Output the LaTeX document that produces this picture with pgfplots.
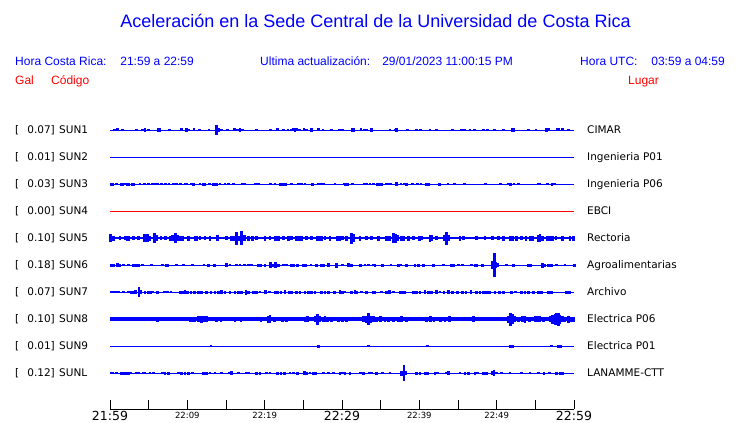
\documentclass[border=0pt]{standalone}
\usepackage{fontspec}
\usepackage{pgfplots}
\usepackage{pgfplotstable}
\pgfplotsset{compat=1.18}
\setmainfont{DejaVu Sans}
\newfontfamily\arial{Liberation Sans}
\definecolor{trazo}{RGB}{0,0,255}
\definecolor{rojo}{RGB}{255,0,0}
\newcommand\bigt{\fontsize{12.5}{13}\selectfont}
\newcommand\smallt{\fontsize{8.5}{9}\selectfont}
\newcommand\lbl{\fontsize{10.5}{12}\selectfont}

% bursts: p = position along the hour (0..464), h = half height (px)
\pgfplotstableread{
p h
4.3 1
7.7 1.5
12.3 1
26.7 1
32.3 1.3
35 1.7
38.3 1.3
48.3 1.7
49.3 1.7
59.3 1
71.7 1.5
76.7 2.3
78.3 1.3
84 1.5
89.7 1
99 1
106.3 5
107.7 1.7
109 1.7
111.7 1
117.7 1
124.7 1.5
127.7 1
130 1.7
132.7 1
146.7 1.3
160.7 1
167.7 1.5
173.3 1
178 1.3
181 1.3
183.3 1.5
185 2.3
186.7 1.5
189.3 1
194 1.5
196.7 1
201.3 1.7
208.7 1.5
213 1.3
221.7 1
229.7 1.3
232.3 1
242.3 1.7
243.3 1.7
251 1.5
254.3 1.3
256.7 1.3
261.7 1.7
280 1.3
285 1.3
286.7 1.7
297.3 1
306.7 1
310.7 1.3
320 1.3
326.7 1.3
342.3 1
351.7 1.3
354.3 1.3
360 1
364.3 1.3
373.3 1
377.3 1
384.3 1.3
393.3 1.3
402.7 1.7
404 1.7
418.3 1
426 1
436.7 1.7
439 1.5
447.3 1.5
449 1.5
452.7 1.5
458.3 1
}\sunA

\pgfplotstableread{
p h
1.7 1.5
3 1.5
6.7 1
11 1.5
12.3 1.5
15.7 1.3
17.7 1.5
19 1.5
22.3 1.5
23.7 1.5
30 1
34.3 1.3
38.3 1
42.3 1.3
45.7 1.3
47.3 1
51.7 1
55.7 1.3
59 1
63.3 1
66.7 1
70.7 1
75 1.3
76.7 1.3
81.3 1.3
83.7 1.5
90 1
93.3 1.5
94.7 1.5
99.3 1.3
103.3 1.5
105 1.5
106.7 1.5
110 1.3
115 1
118.3 1
123.3 1.3
132.3 1
134.7 1.3
145.7 1
148.3 1.3
160.7 1
165 1.3
170 1.5
171.7 1.5
174 1.5
176 1.5
181.7 1.3
188.3 1
191.7 1.3
195 1
202.7 1.5
208.3 1
211 1.3
213.3 1
225 1
234 1.3
235.7 1.5
237.3 1.5
242.3 1.3
254.3 1
256.7 1.3
260 1.3
263.3 1.3
267.7 1.5
269.3 1.5
271.7 1.5
276 1.3
278.3 1.3
281 1
286.7 2.3
291 1.3
294.3 1
296.7 1.5
302.7 1
307.3 1.3
311 1
316.7 1.5
318.3 1.5
329.3 1.5
338 1.3
344.3 1
354.3 1.3
375.3 1.3
390.7 1
398.3 1.3
400.7 1.5
404 1
408.3 1.3
428.3 1.3
430 1
437.3 1
442 1.5
444.7 1.3
}\sunC

\pgfplotstableread{
p h
0.7 4
3.3 2.5
10 2
15 2
17.7 2.5
19 2.5
23.3 2
28.3 2
34.3 4
36 3.3
37.7 4
40 2.5
44.3 5
46.7 3
51 2
55.7 2
60 2.5
62.7 3
65.3 5
67.7 3
70 2.5
72.3 2.5
78.3 2.5
85 2.5
86.7 2.5
90 2
95 2
100 2.5
107.3 3.3
116.7 2
121.7 2.5
123.3 2.5
126.7 6.5
129.3 2.5
131.3 7
133.3 3
135 3
138.3 2.5
142.7 2.5
146.7 2
155 2.5
160 2
165.7 2.5
168.3 2.5
173.3 2
178.3 2.5
181.7 2
186.7 2.5
188.3 2.5
191.7 2.5
196.7 2
201.7 2
207.7 2.5
210 2.5
211.7 2.5
215 2
220 2.5
227.7 2.5
230 2.5
232.7 2
236.7 2.5
241.7 5.5
243.3 4
250 2.5
256.7 2
261.7 2
268.3 2.5
276.7 2.5
279.3 2.5
283.3 5
285.7 4.5
287.3 3
291.7 2.5
294 2.5
298.3 2.5
303.3 2
309.3 2.5
311.7 2
320 3.5
321.7 3
326.7 2
334 3.3
336.7 6.5
338.3 3
350 2.5
353.3 2
366.7 2
375 2
382.7 2
388.3 2
393.3 2.5
400.7 2.5
402.7 2.5
406.7 2.5
411.7 2
416 2.5
420 2.5
422.7 2.5
428.3 3.5
430 4
432.7 2.5
437.3 2.5
440 2.5
442.7 2.5
446 2
452.7 2.5
460 2.5
463.3 2.5
}\sunE

\pgfplotstableread{
p h
1 1.5
3.3 1.5
7.7 2
9.3 1.5
13.3 1.3
18.3 1.3
23.3 1.5
25.7 1.5
28.3 1.5
32.3 1
41.7 1.3
52.3 1
56 1.5
57.7 1.5
66.7 1.3
73.3 1.3
82.3 1.3
94 1.3
98.3 1.5
104.3 1.5
116.7 2.3
120 1.3
126.7 1
130 1.3
134.3 1.3
138.3 1.3
141.7 1.3
148.3 1.5
150.7 1.5
155 1.5
160.3 3.3
163.3 1.5
165.3 3
168.3 1.5
173.3 1.3
176.7 1.3
181 1.5
183.3 1.5
187.7 1.5
193.3 1.5
195.7 1.5
201 1.3
206.7 1.5
211.7 1.5
213.3 1.5
218.3 2
226.7 2.5
232.3 1
238.3 2.3
241.7 1.5
250.7 1.5
255 1.3
258.3 1.3
263.3 1.3
265 1.5
272.3 1.5
281 1.3
288.3 1.5
291 1.3
296.7 1.5
305 1.5
308.3 1.5
313.3 1.5
323.3 1.5
333.3 1.3
341.7 1.5
343.3 1.5
348.3 1.3
352.7 1.3
361.7 1.3
365 1.5
366.7 1.5
372.7 1.5
382.7 4
384.3 12
386 3
387.3 2
396.7 1.3
403.3 1.5
418.3 1.5
420.7 1.5
432.7 2.5
435 1.5
438.3 1.5
441.7 1.5
446.7 1.3
455 1.3
464.3 1.5
}\sunF

\pgfplotstableread{
p h
1 1.3
3.3 1.3
6.7 1.3
8.3 1
13.3 1
18.3 1.3
21 1.5
23.3 1.5
25.7 2.3
29 5
30.7 2
35 1.5
38.3 1.5
41 1.5
42.7 1.3
47.7 1.5
54.3 1
57.3 1
61 1.3
70 1.5
72.7 1.5
75 2
77.7 1.5
81 1.5
84.3 1.5
88.3 1.5
91.7 1.5
96.7 1.5
101 1.5
105 1.5
108.3 1.5
111.7 2
115 1.5
120 1.5
125 1.5
128.3 1.5
131.7 1.5
136 2.5
138.3 1.5
143.3 1.5
146.7 1.5
150 1.3
155.7 2
159.3 1.3
165 1.5
167.7 1.5
171 1.5
175 2
179 1.5
181.7 1.5
186.7 1.5
190 1.5
195 1.5
198.3 1.5
201.7 1.5
205 1.5
211.7 1.5
215 1.5
218.3 1.5
224.3 1.5
230 2
232.7 1.5
235 1.3
241.7 1.5
245 2
246.7 1.5
251.7 1.3
256.7 1.5
263.3 1.5
265 1.5
271.7 1.3
276.7 1.5
279.3 2
283.3 1
290 1.5
292.7 1.5
295 1.5
303.3 1.5
306.7 1.5
310 1.5
315 2
318.3 1.5
321.7 1.5
326.7 2
330 1.3
334 1.5
338.3 2
342.7 1.5
347.3 1.5
352.7 1.5
356 1.5
361 2
366.7 1.5
370 1.5
373.3 1.5
376.7 1.5
379.3 1.5
385 1.5
389.3 1.5
393.3 1.5
401.7 1.5
405.7 1.3
411.7 1.5
415 1.5
418.3 1.5
423.3 1.5
428.3 1.5
431.7 1.5
438.3 1.5
441.7 1.5
456.7 1.5
459.3 1.5
}\sunG

\pgfplotstableread{
p h
32.3 2.3
47.7 2.5
62.7 2.3
80 2.5
82.3 2.5
85 2.5
88.3 2.7
91.7 3.5
94 3
96.7 3
101.7 2.3
106.7 2.5
111 2.5
125 2.5
131 2.5
151 2.5
158.3 3.5
160 4
164.3 2.5
172.7 2.5
176.7 2.5
188.3 2
195 2.5
197.3 3
205.7 3
207.7 5.5
210 3
213.3 2.5
215 3
217.7 2.5
221.7 2.5
225 2.3
228.3 2.5
232.3 2.5
236.7 2.5
253.3 3
256 3.5
258.3 6
260.7 3.5
263.3 3
266.7 2.5
270.7 3
275 2.5
278.3 2.5
283.3 2.5
288.3 2.5
291.7 3
296.7 2.5
300.7 2.3
316.7 2.5
320.7 3
324 2.5
330.7 2.5
335 2.5
339.3 3
363.3 2.7
371.7 2.3
398.3 3.5
400.7 6.5
402.7 5
405 3
408.3 2.5
412.7 3
415 3.5
419.3 2.5
425 3
427.3 3
429.3 3
433.3 2.5
440 3
442.3 4.5
445 5.5
446.7 6
448.3 6.5
450 4.5
452.7 3
455 2.5
458.3 3.5
460.7 2.5
463.3 2.5
}\sunH

\pgfplotstableread{
p h
101 1
208.3 1.5
258.3 1.3
317.3 1
400 1.5
402.3 1.5
441.7 1.3
448.3 1.5
450.7 1.5
}\sunI

\pgfplotstableread{
p h
1 1.3
2.3 1.3
6.7 1.3
11.7 1.5
14 1.5
16.7 1.5
18.3 1.5
21 1
26.7 1
29 1
33.3 1.3
35 1.3
40 1.3
43.3 1.3
52.3 1.3
55 1.5
58.3 1.5
68.3 1.3
71.7 1.5
75 1.5
78.3 1.5
82.3 1.3
93.3 1.5
96.7 1.5
100 1.3
105 1.3
111.7 1.3
119 1.3
121.7 2
128.3 1.3
136.7 1.3
139 1.3
146.7 1.5
150 1.5
156.7 1.3
160 1.3
167.7 1.5
171 1.5
174.3 1.5
180 1.3
183.3 1.3
187.7 1.5
194.3 2
196.3 1.5
200 1.3
203.3 1.5
206 1.5
213.3 1
218.3 1.3
223.3 1.3
230 1.5
232.3 1.3
235 1.5
240 1.5
250.7 1.3
253.3 1.5
259.3 1.3
261.7 1.3
266.7 1.5
272.7 1.3
280 1.3
291.7 2.5
294 8
296 2
306.7 1.5
310 1.5
315 1.5
317.3 1.5
325 1.5
327.3 1.3
336 1.3
338.3 2
350 1.3
355 1.5
358.3 1.5
365 1.5
367.7 1.3
373.3 1.5
376.7 1.5
382.7 2
384 3.3
386.7 1.3
391.7 1.3
400 1.3
411.7 1.3
420 1.3
428.3 1.3
434 1.5
439.3 1.3
446.7 1.5
450 1.5
452.7 1.5
}\sunL

% one trace: table, row, colour, baseline width, burst width
\newcommand{\traza}[5]{%
  \addplot[#3, line width=#4] coordinates {(0,#2) (60,#2)};
  \addplot[#3, only marks, mark=*, mark size=0pt, mark options={draw=none, fill=none},
    error bars/.cd, y dir=both, y explicit, error mark=none,
    error bar style={line width=#5}]
    table[x expr=\thisrow{p}*60/464, y expr=#2, y error expr=\thisrow{h}/27] {#1};
}

\begin{document}
\begin{tikzpicture}
\useasboundingbox (0,0) rectangle (740pt,423pt);

\begin{axis}[
    at={(110pt,14pt)}, anchor=south west,
    scale only axis, width=464pt, height=293pt,
    xmin=0, xmax=60,
    ymin=0.4815, ymax=11.333, y dir=reverse,
    axis x line=bottom, axis y line=none,
    x axis line style={-, black, line width=1pt},
    xtick={0,5,...,60},
    xticklabels={{\bigt 21:59},{},{\smallt 22:09},{},{\smallt 22:19},{},{\bigt 22:29},{},{\smallt 22:39},{},{\smallt 22:49},{},{\bigt 22:59}},
    xticklabel style={anchor=north, inner sep=0pt, yshift=-2.5pt},
    ytick=\empty,
    tick align=inside, major tick length=9pt,
    tick style={black, line width=1pt},
    clip=false,
]
\traza{\sunA}{1}{trazo}{0.9pt}{2.6pt}
\addplot[trazo, line width=0.9pt] coordinates {(0,2) (60,2)};
\traza{\sunC}{3}{trazo}{0.9pt}{2.6pt}
\addplot[rojo, line width=0.9pt] coordinates {(0,4) (60,4)};
\traza{\sunE}{5}{trazo}{2.8pt}{2.6pt}
\traza{\sunF}{6}{trazo}{0.9pt}{2.6pt}
\traza{\sunG}{7}{trazo}{0.9pt}{2.6pt}
\traza{\sunH}{8}{trazo}{3.2pt}{2.6pt}
\traza{\sunI}{9}{trazo}{0.9pt}{2.6pt}
\traza{\sunL}{10}{trazo}{0.9pt}{2.6pt}
\end{axis}

% header
\node[anchor=base, text=trazo, font=\arial\fontsize{18}{20}\selectfont, inner sep=0pt]
  at (375.5pt,395.5pt) {Aceleración en la Sede Central de la Universidad de Costa Rica};
\begin{scope}[every node/.style={inner sep=0pt, font=\arial\fontsize{12}{14}\selectfont}]
\node[anchor=base west, text=trazo] at (15pt,357.5pt) {Hora Costa Rica:};
\node[anchor=base east, text=trazo] at (194pt,357.5pt) {21:59 a 22:59};
\node[anchor=base west, text=trazo] at (260pt,357.5pt) {Ultima actualización:};
\node[anchor=base east, text=trazo] at (513pt,357.5pt) {29/01/2023 11:00:15 PM};
\node[anchor=base west, text=trazo] at (580pt,357.5pt) {Hora UTC:};
\node[anchor=base east, text=trazo] at (725pt,357.5pt) {03:59 a 04:59};
\node[anchor=base west, text=rojo] at (15pt,338.5pt) {Gal};
\node[anchor=base west, text=rojo] at (51pt,338.5pt) {Código};
\node[anchor=base west, text=rojo] at (628pt,338.5pt) {Lugar};
\end{scope}

% station rows
\begin{scope}[every node/.style={inner sep=0pt, font=\lbl}]
\foreach \v/\c/\n [count=\i] in {0.07/SUN1/CIMAR, 0.01/SUN2/Ingenieria P01, 0.03/SUN3/Ingenieria P06,
    0.00/SUN4/EBCI, 0.10/SUN5/Rectoria, 0.18/SUN6/Agroalimentarias, 0.07/SUN7/Archivo,
    0.10/SUN8/Electrica P06, 0.01/SUN9/Electrica P01, 0.12/SUNL/LANAMME-CTT}{
  \pgfmathsetmacro{\yb}{423-(130+27*(\i-1)+4)}
  \node[anchor=base west] at (15pt,\yb pt) {[};
  \node[anchor=base east] at (55pt,\yb pt) {\v]};
  \node[anchor=base west] at (59pt,\yb pt) {\c};
  \node[anchor=base west] at (587pt,\yb pt) {\n};
}
\end{scope}
\end{tikzpicture}
\end{document}
